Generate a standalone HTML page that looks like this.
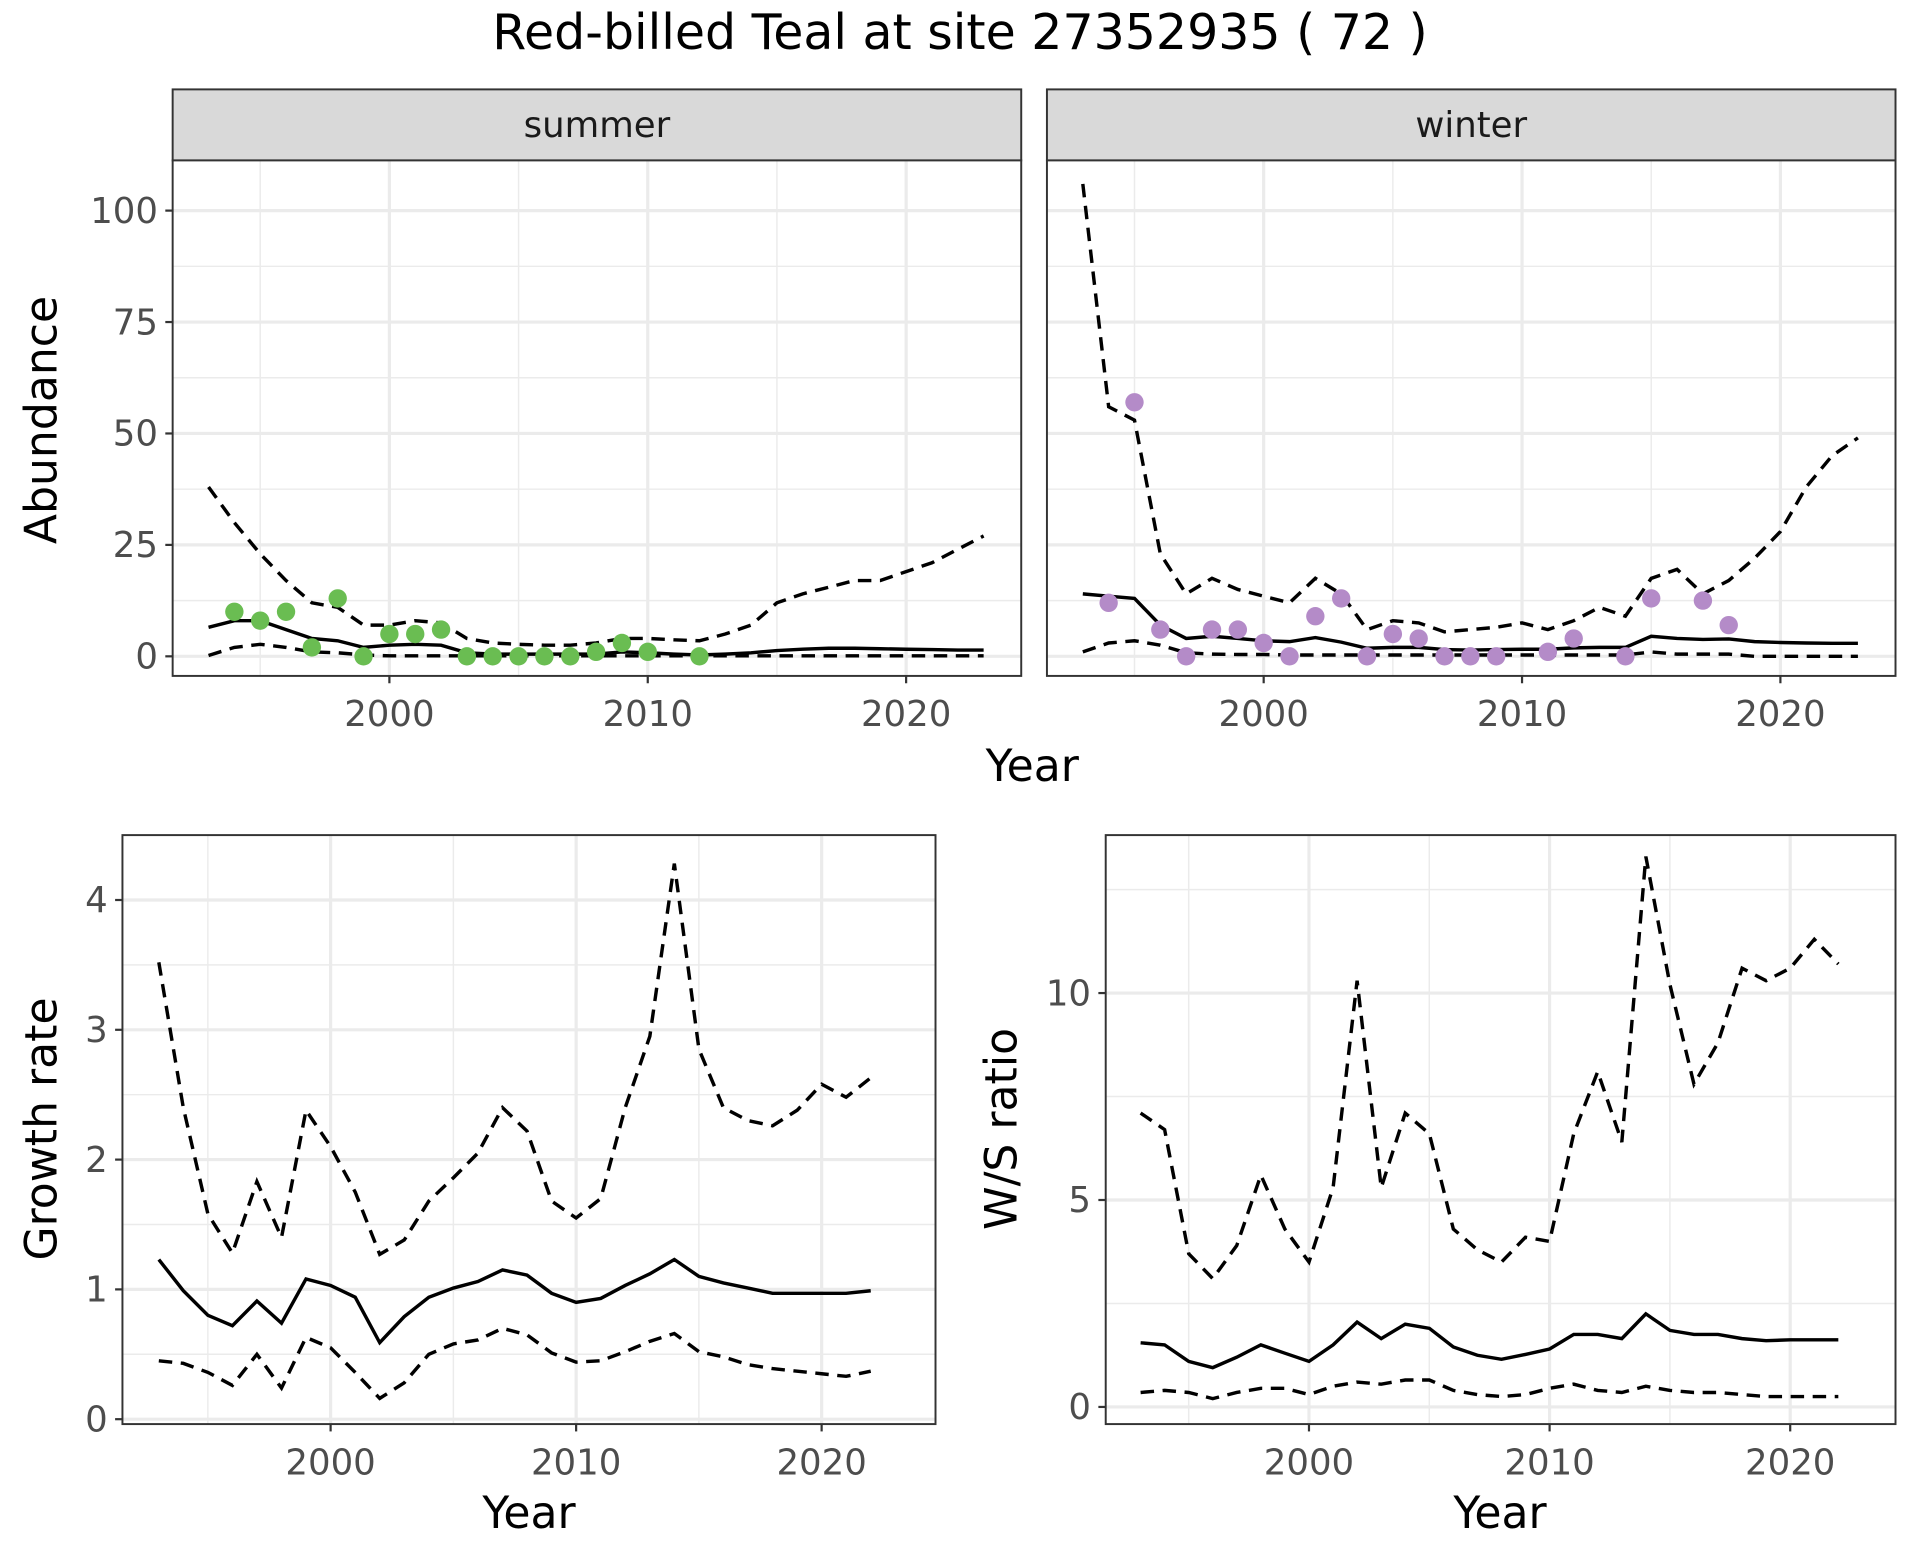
<!DOCTYPE html>
<html><head><meta charset="utf-8"><style>
html,body{margin:0;padding:0;background:#fff;}
svg{display:block;font-family:"DejaVu Sans","Liberation Sans",sans-serif;}
</style></head><body>
<svg id="s" width="1920" height="1560" viewBox="0 0 1568 1274" xmlns="http://www.w3.org/2000/svg">
<rect width="1568" height="1274" fill="#fff"/>
<text x="784" y="40" text-anchor="middle" font-size="40" fill="#000">Red-billed Teal at site 27352935 ( 72 )</text>
</svg>
<script>
const S=document.getElementById('s');const NS='http://www.w3.org/2000/svg';
function el(t,a,txt){const e=document.createElementNS(NS,t);for(const k in a)e.setAttribute(k,a[k]);if(txt!==undefined)e.textContent=txt;S.appendChild(e);return e;}
function panel(o){
 const {x0,x1,y0,y1,fx,fy,xt,xm,yt,ym,yl}=o;
 el('rect',{x:x0,y:y0,width:x1-x0,height:y1-y0,fill:'#fff'});
 ym.forEach(v=>el('line',{x1:x0,x2:x1,y1:fy(v),y2:fy(v),stroke:'#ebebeb','stroke-width':1.2}));
 xm.forEach(v=>el('line',{y1:y0,y2:y1,x1:fx(v),x2:fx(v),stroke:'#ebebeb','stroke-width':1.2}));
 yt.forEach(v=>el('line',{x1:x0,x2:x1,y1:fy(v),y2:fy(v),stroke:'#ebebeb','stroke-width':2.6}));
 xt.forEach(v=>el('line',{y1:y0,y2:y1,x1:fx(v),x2:fx(v),stroke:'#ebebeb','stroke-width':2.6}));
 const cl='c'+Math.round(x0);
 const cp=el('clipPath',{id:cl});const r=document.createElementNS(NS,'rect');r.setAttribute('x',x0);r.setAttribute('y',y0);r.setAttribute('width',x1-x0);r.setAttribute('height',y1-y0);cp.appendChild(r);
 o.series.forEach(s=>{const pts=s.d.map((v,i)=>fx(s.start+i).toFixed(1)+','+fy(v).toFixed(1)).join(' ');
  const a={points:pts,fill:'none',stroke:'#000','stroke-width':2.8,'clip-path':'url(#'+cl+')'};if(s.dash)a['stroke-dasharray']='11,7';el('polyline',a);});
 (o.pts||[]).forEach(p=>el('circle',{cx:fx(p[0]),cy:fy(p[1]),r:7.5,fill:o.pc}));
 el('rect',{x:x0,y:y0,width:x1-x0,height:y1-y0,fill:'none',stroke:'#333','stroke-width':1.6});
 if(yl){yt.forEach((v,i)=>{el('line',{x1:x0-6,x2:x0,y1:fy(v),y2:fy(v),stroke:'#333','stroke-width':1.8});el('text',{x:x0-12,y:fy(v)+10,'text-anchor':'end','font-size':29,fill:'#4d4d4d'},yl[i]);});}
 xt.forEach(v=>{el('line',{y1:y1,y2:y1+6,x1:fx(v),x2:fx(v),stroke:'#333','stroke-width':1.8});el('text',{x:fx(v),y:y1+41,'text-anchor':'middle','font-size':29,fill:'#4d4d4d'},String(v));});
}
const tfy=v=>536-v*3.64;
const sum={solid:[6.5,8,8,6,4,3.5,2,2.5,2.7,2.5,0.8,0.5,0.5,0.5,0.5,0.5,1,0.8,0.5,0.3,0.5,0.8,1.3,1.6,1.8,1.8,1.7,1.6,1.5,1.4,1.4],
 up:[38,30,23,17,12,11,7,7,8,7.5,4,3,2.7,2.5,2.5,3,4,4,3.7,3.5,5,7,12,14,15.5,17,17,19,21,24,27],
 lo:[0.2,2,2.7,2,1,0.8,0.3,0.1,0.1,0.1,0.1,0.1,0.1,0.1,0.1,0.1,0.1,0.1,0.1,0.1,0.1,0.1,0.1,0.1,0.1,0.1,0.1,0.1,0.1,0.1,0.1],
 pts:[[1994,10],[1995,8],[1996,10],[1997,2],[1998,13],[1999,0],[2000,5],[2001,5],[2002,6],[2003,0],[2004,0],[2005,0],[2006,0],[2007,0],[2008,1],[2009,3],[2010,1],[2012,0]]};
const win={solid:[14,13.5,13,7,4,4.5,4,3.5,3.3,4.2,3.2,1.8,2,2,1.5,1.4,1.5,1.6,1.6,1.9,2,2,4.5,4,3.8,3.9,3.3,3.1,3,2.9,2.9],
 up:[106,56,53,23,14,17.5,15,13.5,12,17.5,14,6,8,7.5,5.5,6,6.5,7.5,6,8,11,9,17.5,19.5,14,17,22,28,38,45,49],
 lo:[1,3,3.5,2.5,0.8,0.5,0.4,0.4,0.3,0.3,0.3,0.3,0.3,0.3,0.3,0.3,0.3,0.3,0.3,0.3,0.3,0.3,1,0.5,0.5,0.5,0,0,0,0,0],
 pts:[[1994,12],[1995,57],[1996,6],[1997,0],[1998,6],[1999,6],[2000,3],[2001,0],[2002,9],[2003,13],[2004,0],[2005,5],[2006,4],[2007,0],[2008,0],[2009,0],[2011,1],[2012,4],[2014,0],[2015,13],[2017,12.5],[2018,7]]};
[[141,834,sum,'#6abd52','summer',true],[855,1548,win,'#b48bc8','winter',false]].forEach(([x0,x1,d,c,name,yl])=>{
 const o=x0===141?318:1032;const fx=v=>o+(v-2000)*21.1;
 el('rect',{x:x0,y:73,width:x1-x0,height:58,fill:'#d9d9d9',stroke:'#333','stroke-width':1.6});
 el('text',{x:(x0+x1)/2,y:112,'text-anchor':'middle','font-size':29,fill:'#1a1a1a'},name);
 panel({x0,x1,y0:131,y1:552,fx,fy:tfy,xt:[2000,2010,2020],xm:[1995,2005,2015],yt:[0,25,50,75,100],ym:[12.5,37.5,62.5,87.5],
  yl:yl?['0','25','50','75','100']:null,series:[{start:1993,d:d.solid},{start:1993,d:d.up,dash:1},{start:1993,d:d.lo,dash:1}],pts:d.pts,pc:c});
});
el('text',{x:843,y:638,'text-anchor':'middle','font-size':36},'Year');
el('text',{transform:'translate(46,343) rotate(-90)','text-anchor':'middle','font-size':36},'Abundance');
panel({x0:100,x1:764,y0:682,y1:1163,fx:v=>270+(v-2000)*20.05,fy:v=>1159-v*106,xt:[2000,2010,2020],xm:[1995,2005,2015],yt:[0,1,2,3,4],ym:[0.5,1.5,2.5,3.5],yl:['0','1','2','3','4'],
 series:[{start:1993,d:[1.23,0.99,0.8,0.72,0.91,0.74,1.08,1.03,0.94,0.59,0.79,0.94,1.01,1.06,1.15,1.11,0.97,0.9,0.93,1.03,1.12,1.23,1.1,1.05,1.01,0.97,0.97,0.97,0.97,0.99]},
 {start:1993,dash:1,d:[3.52,2.4,1.58,1.28,1.83,1.4,2.38,2.1,1.75,1.27,1.38,1.68,1.86,2.05,2.4,2.22,1.68,1.55,1.7,2.4,2.95,4.28,2.85,2.4,2.3,2.26,2.38,2.58,2.48,2.63]},
 {start:1993,dash:1,d:[0.45,0.43,0.36,0.26,0.5,0.24,0.63,0.55,0.36,0.16,0.28,0.5,0.58,0.61,0.7,0.65,0.51,0.44,0.45,0.52,0.6,0.66,0.52,0.48,0.42,0.39,0.37,0.35,0.33,0.37]}]});
el('text',{x:432,y:1248,'text-anchor':'middle','font-size':36},'Year');
el('text',{transform:'translate(46,922) rotate(-90)','text-anchor':'middle','font-size':36},'Growth rate');
panel({x0:903,x1:1548,y0:682,y1:1163,fx:v=>1069+(v-2000)*19.65,fy:v=>1149-v*33.8,xt:[2000,2010,2020],xm:[1995,2005,2015],yt:[0,5,10],ym:[2.5,7.5,12.5],yl:['0','5','10'],
 series:[{start:1993,d:[1.55,1.5,1.1,0.95,1.2,1.5,1.3,1.1,1.5,2.05,1.65,2,1.9,1.45,1.25,1.15,1.27,1.4,1.75,1.75,1.65,2.25,1.85,1.75,1.75,1.65,1.6,1.62,1.62,1.62]},
 {start:1993,dash:1,d:[7.1,6.7,3.7,3.1,3.9,5.6,4.3,3.5,5.3,10.3,5.3,7.1,6.6,4.3,3.8,3.5,4.1,4,6.6,8.1,6.4,13.3,10.2,7.8,8.8,10.6,10.3,10.6,11.3,10.7]},
 {start:1993,dash:1,d:[0.35,0.4,0.35,0.2,0.35,0.45,0.45,0.3,0.5,0.6,0.55,0.65,0.65,0.4,0.3,0.25,0.3,0.45,0.55,0.4,0.35,0.5,0.4,0.35,0.35,0.3,0.25,0.25,0.25,0.25]}]});
el('text',{x:1225,y:1248,'text-anchor':'middle','font-size':36},'Year');
el('text',{transform:'translate(830,922) rotate(-90)','text-anchor':'middle','font-size':36},'W/S ratio');
</script>
</body></html>
